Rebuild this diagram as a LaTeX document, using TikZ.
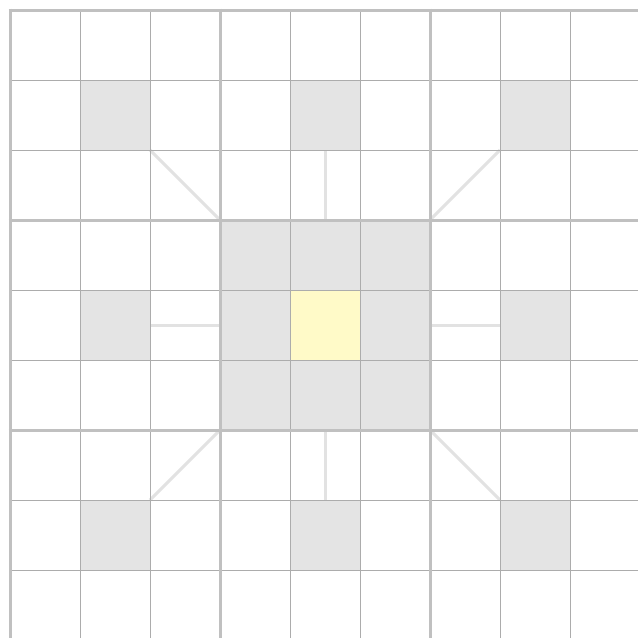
\documentclass[tikz,border=0pt]{standalone}
\begin{document}
\begin{tikzpicture}[x=1pt,y=-1pt,
  cellgray/.style={fill={rgb,255:red,228;green,228;blue,228}},
  cellyellow/.style={fill={rgb,255:red,255;green,250;blue,200}},
  thinline/.style={draw={rgb,255:red,172;green,172;blue,172},line width=1pt},
  thickline/.style={draw={rgb,255:red,192;green,192;blue,192},line width=3pt},
  linkline/.style={draw={rgb,255:red,226;green,226;blue,226},line width=3pt}]
\useasboundingbox (0,0) rectangle (638,638);
\fill[white] (0,0) rectangle (638,638);
% shaded cells
\foreach \c/\r in {1/1,4/1,7/1,1/4,7/4,1/7,4/7,7/7,3/3,4/3,5/3,3/4,5/4,3/5,4/5,5/5}{
  \path[cellgray] ({10+70*\c},{10+70*\r}) rectangle ++(70,70);
}
\path[cellyellow] (290,290) rectangle (360,360);
% link lines
\coordinate (a1) at (150,150); \coordinate (a2) at (220,220);
\coordinate (b1) at (325,150); \coordinate (b2) at (325,220);
\coordinate (c1) at (500,150); \coordinate (c2) at (430,220);
\coordinate (d1) at (150,325); \coordinate (d2) at (220,325);
\coordinate (e1) at (430,325); \coordinate (e2) at (500,325);
\coordinate (f1) at (150,500); \coordinate (f2) at (220,430);
\coordinate (g1) at (325,430); \coordinate (g2) at (325,500);
\coordinate (h1) at (430,430); \coordinate (h2) at (500,500);
\foreach \p in {a,b,c,d,e,f,g,h}{\draw[linkline] (\p1) -- (\p2);}
% thin grid
\foreach \i in {1,2,4,5,7,8}{
  \draw[thinline] ({10+70*\i},10) -- ({10+70*\i},660);
  \draw[thinline] (10,{10+70*\i}) -- (660,{10+70*\i});
}
% thick grid
\foreach \i in {0,3,6,9}{
  \draw[thickline] ({10+70*\i},8.5) -- ({10+70*\i},660);
  \draw[thickline] (8.5,{10+70*\i}) -- (660,{10+70*\i});
}
\end{tikzpicture}
\end{document}
